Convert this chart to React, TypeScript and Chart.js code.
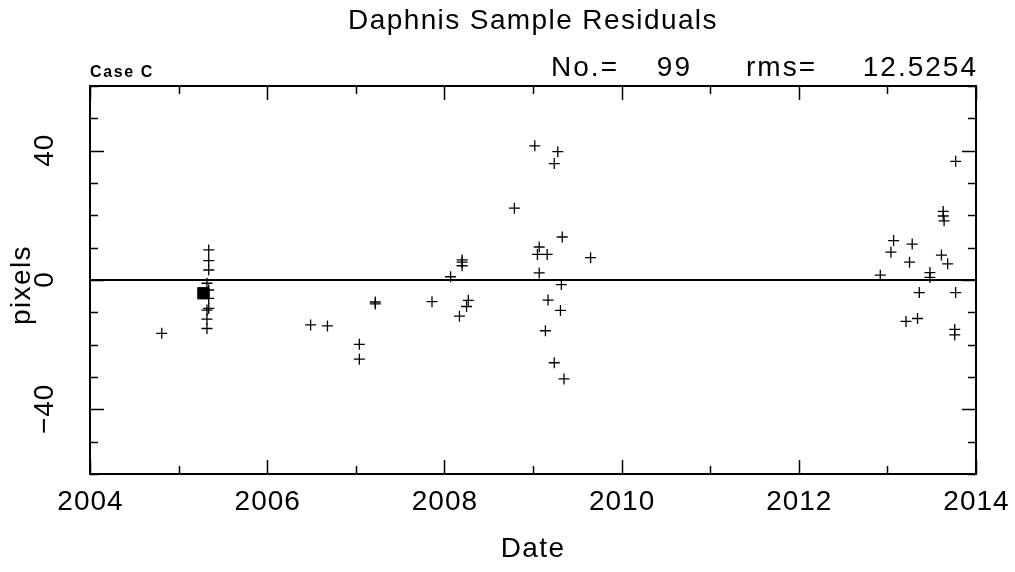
import React, { useEffect, useRef } from "react";
import { Chart, registerables } from "chart.js";

Chart.register(...registerables);

const titleText = "Daphnis Sample Residuals";
const caseLabel = "Case C";
const statLabels = ["No.=", "99", "rms=", "12.5254"];
const xAxisLabel = "Date";
const yAxisLabel = "pixels";

const xTickLabels = [2004, 2006, 2008, 2010, 2012, 2014];
const yTickLabels = [-40, 0, 40];

const sampleYears = [
  2004.81, 2005.34, 2005.34, 2005.34, 2005.32, 2005.34, 2005.34, 2005.34, 2005.32, 2005.32, 2005.32,
  2006.49, 2006.68, 2007.04, 2007.04, 2007.22, 2007.22, 2007.86, 2008.07, 2008.2, 2008.2, 2008.2,
  2008.27, 2008.25, 2008.17, 2008.79, 2009.02, 2009.28, 2009.24, 2009.33, 2009.07, 2009.05, 2009.16,
  2009.65, 2009.07, 2009.32, 2009.17, 2009.31, 2009.14, 2009.24, 2009.35,
  2013.77, 2013.63, 2013.63, 2013.64, 2013.07, 2013.04, 2013.28, 2013.25, 2013.61, 2013.68, 2012.92,
  2013.48, 2013.48, 2013.36, 2013.77, 2013.21, 2013.34, 2013.76, 2013.76,
];
const sampleResiduals = [
  -16.5, 9.3, 6.0, 3.1, -1.0, -3.1, -5.7, -8.8, -9.3, -12.1, -15.0,
  -13.9, -14.2, -19.9, -24.5, -6.8, -7.4, -6.7, 1.0, 6.2, 5.5, 4.4,
  -6.3, -8.2, -11.2, 22.2, 41.5, 39.7, 36.0, 13.3, 10.2, 7.9, 7.9,
  6.9, 2.2, -1.4, -6.2, -9.4, -15.7, -25.6, -30.6,
  36.7, 21.2, 19.8, 18.3, 12.2, 8.6, 11.1, 5.5, 7.7, 5.0, 1.5,
  2.3, 0.8, -3.9, -3.9, -12.8, -11.9, -15.3, -17.0,
];

const markedYears = [2005.28];
const markedResiduals = [-4.1];

const zeroLineYears = [2004, 2014];
const zeroLineValues = [0, 0];

const FONT = "'Liberation Sans', Arial, sans-serif";

const framePlugin = {
  id: "framePlugin",
  afterDraw(chart: any) {
    const { ctx, chartArea } = chart;
    const xs = chart.scales.x;
    const ys = chart.scales.y;
    const { left, right, top, bottom } = chartArea;
    ctx.save();
    ctx.strokeStyle = "#000";
    ctx.fillStyle = "#000";
    ctx.lineWidth = 2;
    ctx.strokeRect(left, top, right - left, bottom - top);
    ctx.lineWidth = 1.5;
    for (let yr = 2004; yr <= 2014; yr++) {
      const px = Math.round(xs.getPixelForValue(yr)) + 0.5;
      const len = yr % 2 === 0 ? 14 : 8;
      ctx.beginPath();
      ctx.moveTo(px, bottom);
      ctx.lineTo(px, bottom - len);
      ctx.moveTo(px, top);
      ctx.lineTo(px, top + len);
      ctx.stroke();
    }
    for (let v = -60; v <= 60; v += 10) {
      const py = Math.round(ys.getPixelForValue(v)) + 0.5;
      const len = v % 40 === 0 ? 14 : 8;
      ctx.beginPath();
      ctx.moveTo(left, py);
      ctx.lineTo(left + len, py);
      ctx.moveTo(right, py);
      ctx.lineTo(right - len, py);
      ctx.stroke();
    }
    ctx.font = `28px ${FONT}`;
    ctx.textAlign = "center";
    ctx.textBaseline = "middle";
    (ctx as any).letterSpacing = "1px";
    xTickLabels.forEach((t) => {
      ctx.fillText(String(t), xs.getPixelForValue(t) + 0.5, 502);
    });
    yTickLabels.forEach((t) => {
      ctx.save();
      ctx.translate(45, ys.getPixelForValue(t));
      ctx.rotate(-Math.PI / 2);
      ctx.fillText(t < 0 ? "\u2212" + Math.abs(t) : String(t), 0.5, 0);
      ctx.restore();
    });
    (ctx as any).letterSpacing = "1.4px";
    ctx.fillText(xAxisLabel, (left + right) / 2, 549);
    ctx.save();
    ctx.translate(22, (top + bottom) / 2 + 5);
    ctx.rotate(-Math.PI / 2);
    ctx.fillText(yAxisLabel, 0, 0);
    ctx.restore();
    ctx.textBaseline = "alphabetic";
    ctx.fillText(titleText, (left + right) / 2, 29);
    ctx.textAlign = "right";
    (ctx as any).letterSpacing = "2px";
    const statRights = [619, 692, 817, right + 2];
    statLabels.forEach((s, i) => ctx.fillText(s, statRights[i], 76));
    ctx.font = `bold 16px ${FONT}`;
    (ctx as any).letterSpacing = "1.6px";
    ctx.textAlign = "left";
    ctx.fillText(caseLabel, left, 77);
    ctx.restore();
  },
};

export default function App() {
  const canvasRef = useRef<HTMLCanvasElement | null>(null);

  useEffect(() => {
    if (!canvasRef.current) return;
    const chart = new Chart(canvasRef.current, {
      type: "scatter",
      data: {
        datasets: [
          {
            type: "line",
            label: "zero",
            data: zeroLineYears.map((x, i) => ({ x, y: zeroLineValues[i] })),
            borderColor: "#000",
            borderWidth: 2,
            pointRadius: 0,
          },
          {
            label: "samples",
            data: sampleYears.map((x, i) => ({ x, y: sampleResiduals[i] })),
            pointStyle: "cross",
            pointRadius: 5.5,
            borderColor: "#000",
            borderWidth: 1.3,
            backgroundColor: "#000",
          },
          {
            label: "marked",
            data: markedYears.map((x, i) => ({ x, y: markedResiduals[i] })),
            pointStyle: "rect",
            pointRadius: 8,
            borderColor: "#000",
            borderWidth: 1,
            backgroundColor: "#000",
          },
        ],
      } as any,
      options: {
        animation: false,
        responsive: true,
        maintainAspectRatio: false,
        layout: { padding: { left: 90, right: 39, top: 86, bottom: 98 } },
        plugins: { legend: { display: false }, tooltip: { enabled: false }, title: { display: false } },
        scales: {
          x: {
            type: "linear",
            min: 2004,
            max: 2014,
            grid: { display: false },
            border: { display: false },
            ticks: { display: false },
            afterFit: (s: any) => {
              s.height = 0;
            },
          },
          y: {
            type: "linear",
            min: -60,
            max: 60,
            grid: { display: false },
            border: { display: false },
            ticks: { display: false },
            afterFit: (s: any) => {
              s.width = 0;
            },
          },
        },
      } as any,
      plugins: [framePlugin],
    });
    return () => chart.destroy();
  }, []);

  return (
    <div style={{ position: "fixed", left: 0, top: 0, width: 1015, height: 572, background: "#fff" }}>
      <canvas ref={canvasRef} />
    </div>
  );
}
